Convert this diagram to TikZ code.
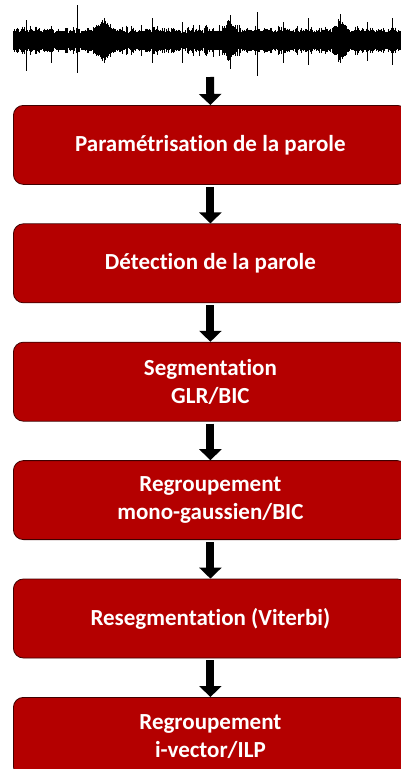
\documentclass[tikz,border=0pt]{standalone}
\usepackage{fontspec}
\setmainfont{Carlito}[Ligatures=NoCommon]
\usetikzlibrary{positioning,arrows.meta}
\definecolor{boxred}{RGB}{180,0,0}
\tikzset{
  stepbox/.style={draw=black!65!boxred, fill=boxred, line width=0.8pt,
    rounded corners=10pt, minimum width=394pt, minimum height=79pt,
    text=white, align=center, font=\fontsize{23}{28}\selectfont\bfseries},
  flow/.style={black, line width=8pt, -{Triangle[width=22pt,length=11pt]},
    shorten <=2pt}
}
\begin{document}
\begin{tikzpicture}[x=1pt, y=-1pt]
    \useasboundingbox (0,0) rectangle (400,769);

    % Speech signal
    \pgfmathsetseed{5}
    \fill[black] (13,34) rectangle (400,47);
    \foreach \x in {13,13.5,...,400} {
        \pgfmathsetmacro\amp{6+3*rnd+10*max(0,1-abs(\x-104)/10)+9*max(0,1-abs(\x-229)/9)+9*max(0,1-abs(\x-341)/9)}
        \draw[black, line width=0.9pt] (\x,{40-\amp}) -- (\x,{41+\amp});
        \pgfmathsetmacro\fuzz{\amp+7*rnd*rnd}
        \draw[black, line width=0.3pt] (\x,{40-\fuzz}) -- (\x,{41+\fuzz});
    }
    \foreach \x/\up/\down in {26/20/30, 51/14/22, 77/35/32, 104/22/22, 152/22/22,
        182/18/22, 213/12/16, 230/25/28, 257/28/35, 283/18/22, 308/22/24,
        340/26/22, 367/18/20, 392/22/24} {
        \draw[black, line width=0.6pt] (\x,{40-\up}) -- (\x,{41+\down});
    }
    \coordinate (signal) at (210,75);

    % Processing steps
    \node[stepbox, anchor=north west] (param) at (13,105) {Paramétrisation de la parole};
    \node[stepbox, below=38.6pt of param] (detect) {Détection de la parole};
    \node[stepbox, below=38.6pt of detect] (segm) {Segmentation\\GLR/BIC};
    \node[stepbox, below=38.6pt of segm] (monog) {Regroupement\\mono-gaussien/BIC};
    \node[stepbox, below=38.6pt of monog] (reseg) {Resegmentation (Viterbi)};
    \node[stepbox, below=38.6pt of reseg] (ivec) {Regroupement\\i-vector/ILP};

    % Arrows between the steps
    \draw[flow] (signal) -- (param.north);
    \draw[flow] (param) -- (detect);
    \draw[flow] (detect) -- (segm);
    \draw[flow] (segm) -- (monog);
    \draw[flow] (monog) -- (reseg);
    \draw[flow] (reseg) -- (ivec);

\end{tikzpicture}
\end{document}
